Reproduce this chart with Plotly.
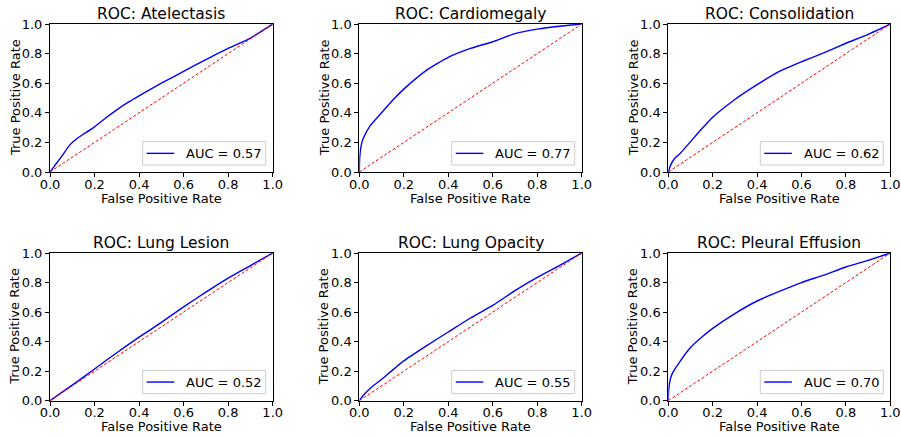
import plotly.graph_objects as go

# ---- data ----
titles = ["ROC: Atelectasis", "ROC: Cardiomegaly", "ROC: Consolidation",
          "ROC: Lung Lesion", "ROC: Lung Opacity", "ROC: Pleural Effusion"]
auc_labels = ["AUC = 0.57", "AUC = 0.77", "AUC = 0.62",
              "AUC = 0.52", "AUC = 0.55", "AUC = 0.70"]
x_title = "False Positive Rate"
y_title = "True Positive Rate"

fpr_atelectasis = [0, 0.02, 0.05, 0.09, 0.12, 0.15, 0.2, 0.25, 0.3, 0.35, 0.4, 0.5, 0.6, 0.7, 0.8, 0.9, 1.0]
tpr_atelectasis = [0, 0.04, 0.10, 0.185, 0.225, 0.255, 0.305, 0.365, 0.42, 0.47, 0.515, 0.60, 0.68, 0.76, 0.835, 0.905, 1.0]

fpr_cardiomegaly = [0, 0.002, 0.01, 0.02, 0.05, 0.1, 0.15, 0.2, 0.3, 0.4, 0.5, 0.6, 0.7, 0.8, 0.9, 1.0]
tpr_cardiomegaly = [0, 0.10, 0.19, 0.235, 0.315, 0.40, 0.485, 0.56, 0.685, 0.775, 0.835, 0.88, 0.935, 0.965, 0.985, 1.0]

fpr_consolidation = [0, 0.01, 0.03, 0.05, 0.1, 0.15, 0.2, 0.3, 0.4, 0.5, 0.6, 0.7, 0.8, 0.9, 1.0]
tpr_consolidation = [0, 0.045, 0.095, 0.12, 0.205, 0.29, 0.37, 0.49, 0.59, 0.68, 0.745, 0.805, 0.87, 0.93, 1.0]

fpr_lung_lesion = [0, 0.1, 0.2, 0.3, 0.4, 0.5, 0.6, 0.7, 0.8, 0.9, 1.0]
tpr_lung_lesion = [0, 0.105, 0.215, 0.325, 0.43, 0.53, 0.635, 0.735, 0.83, 0.915, 1.0]

fpr_lung_opacity = [0, 0.02, 0.05, 0.1, 0.2, 0.3, 0.4, 0.5, 0.6, 0.7, 0.8, 0.9, 1.0]
tpr_lung_opacity = [0, 0.04, 0.085, 0.145, 0.27, 0.37, 0.465, 0.56, 0.645, 0.745, 0.835, 0.915, 1.0]

fpr_pleural = [0, 0.002, 0.01, 0.02, 0.05, 0.1, 0.15, 0.2, 0.3, 0.4, 0.5, 0.6, 0.7, 0.8, 0.9, 1.0]
tpr_pleural = [0, 0.08, 0.15, 0.19, 0.26, 0.36, 0.43, 0.49, 0.59, 0.675, 0.74, 0.80, 0.85, 0.905, 0.95, 1.0]

fprs = [fpr_atelectasis, fpr_cardiomegaly, fpr_consolidation, fpr_lung_lesion, fpr_lung_opacity, fpr_pleural]
tprs = [tpr_atelectasis, tpr_cardiomegaly, tpr_consolidation, tpr_lung_lesion, tpr_lung_opacity, tpr_pleural]

diag = [0, 1]
tick_vals = [0, 0.2, 0.4, 0.6, 0.8, 1.0]
tick_text = ["0.0", "0.2", "0.4", "0.6", "0.8", "1.0"]

# ---- layout geometry (pixels) ----
W, H = 901, 436
col_x = [(50, 272.7), (359.3, 581.7), (668.3, 890.3)]
row_y = [(24, 172), (253, 400.7)]
FONT = "DejaVu Sans, Verdana, sans-serif"
BLACK13 = dict(family=FONT, size=13, color="black")


def px(x):
    return x / W


def py(y):
    return 1 - y / H


fig = go.Figure()
annotations = []
shapes = []
layout = {}
for i in range(6):
    r, c = divmod(i, 3)
    n = i + 1
    sfx = "" if n == 1 else str(n)
    x0, x1 = col_x[c]
    y0, y1 = row_y[r]
    common = dict(range=[0, 1], showgrid=False, zeroline=False, showline=True,
                  linecolor="black", linewidth=1, mirror=True, ticks="outside",
                  ticklen=4, tickwidth=1, tickcolor="black", tickvals=tick_vals,
                  ticktext=tick_text, tickfont=BLACK13,
                  fixedrange=True, automargin=False)
    layout["xaxis" + sfx] = dict(common, domain=[px(x0), px(x1)], anchor="y" + sfx,
                                 ticklabelstandoff=-4)
    layout["yaxis" + sfx] = dict(common, domain=[py(y1), py(y0)], anchor="x" + sfx)
    fig.add_trace(go.Scatter(x=fprs[i], y=tprs[i], mode="lines", name=auc_labels[i],
                             line=dict(color="blue", width=1.4, shape="spline", smoothing=0.5),
                             xaxis="x" + sfx, yaxis="y" + sfx, showlegend=False))
    fig.add_trace(go.Scatter(x=diag, y=diag, mode="lines", showlegend=False,
                             line=dict(color="red", width=1, dash="3px,2px"),
                             xaxis="x" + sfx, yaxis="y" + sfx))
    # subplot title
    annotations.append(dict(text=titles[i], x=px((x0 + x1) / 2), y=py(y0 - 10),
                            xref="paper", yref="paper", xanchor="center", yanchor="middle",
                            showarrow=False, font=dict(family=FONT, size=15.5, color="black")))
    # x-axis title
    annotations.append(dict(text=x_title, x=px((x0 + x1) / 2), y=py(y1 + 26),
                            xref="paper", yref="paper", xanchor="center", yanchor="middle",
                            showarrow=False, font=BLACK13))
    # y-axis title
    annotations.append(dict(text=y_title, x=px(x0 - 35), y=py((y0 + y1) / 2),
                            xref="paper", yref="paper", xanchor="center", yanchor="middle",
                            textangle=-90, showarrow=False, font=BLACK13))
    # legend box (matplotlib-style, lower right)
    lx1, ly1 = x1 - 7, y1 - 7
    lx0, ly0 = lx1 - 123, ly1 - 23.3
    lyc = (ly0 + ly1) / 2
    shapes.append(dict(type="rect", xref="paper", yref="paper",
                       x0=px(lx0), x1=px(lx1), y0=py(ly1), y1=py(ly0),
                       line=dict(color="#cccccc", width=1),
                       fillcolor="rgba(255,255,255,0.8)", layer="above"))
    shapes.append(dict(type="line", xref="paper", yref="paper",
                       x0=px(lx0 + 4), x1=px(lx0 + 31.6), y0=py(lyc), y1=py(lyc),
                       line=dict(color="blue", width=1.4), layer="above"))
    annotations.append(dict(text=auc_labels[i], x=px(lx0 + 41.5), y=py(lyc),
                            xref="paper", yref="paper", xanchor="left", yanchor="middle",
                            showarrow=False, font=BLACK13))

fig.update_layout(**layout)
fig.update_layout(width=W, height=H, margin=dict(l=0, r=0, t=0, b=0),
                  paper_bgcolor="white", plot_bgcolor="white", showlegend=False,
                  annotations=annotations, shapes=shapes, font=dict(family=FONT))
fig.write_html("out.html", config={"displayModeBar": False},
               post_script="document.body.style.margin='0';document.body.style.overflow='hidden';")
